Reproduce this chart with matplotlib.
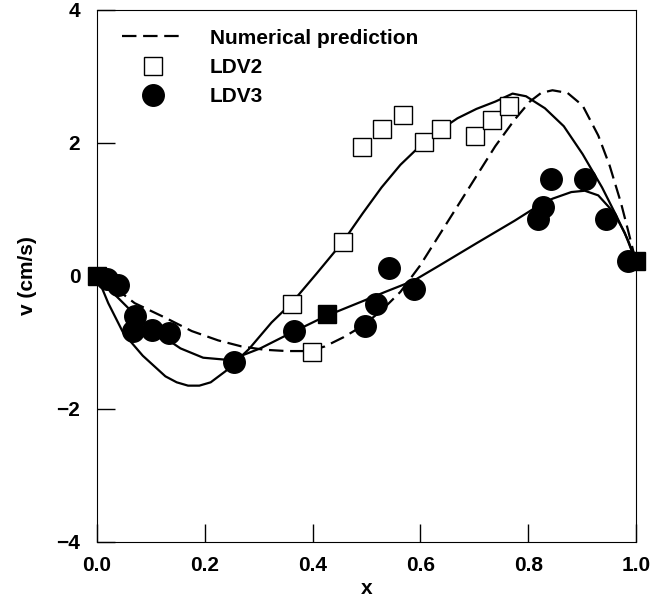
import matplotlib.pyplot as plt
from matplotlib.lines import Line2D

plt.rcParams['font.family'] = 'Liberation Sans'
plt.rcParams['font.weight'] = 'bold'

# solid curve through LDV2 data
fit2_x = [0.0, 0.021, 0.049, 0.085, 0.127, 0.148, 0.169, 0.190, 0.211, 0.239, 0.282, 0.324, 0.361,
          0.408, 0.456, 0.493, 0.528, 0.563, 0.599, 0.634, 0.669, 0.704, 0.739,
          0.771, 0.796, 0.831, 0.866, 0.901, 0.937, 0.965, 0.986, 1.0]
fit2_y = [0.0, -0.41, -0.86, -1.20, -1.51, -1.60, -1.65, -1.65, -1.60, -1.43, -1.10, -0.70, -0.41,
          0.04, 0.51, 0.94, 1.33, 1.67, 1.95, 2.18, 2.37, 2.51, 2.62,
          2.74, 2.70, 2.52, 2.25, 1.83, 1.33, 0.88, 0.52, 0.21]

# solid curve through LDV3 data
fit3_x = [0.0, 0.028, 0.070, 0.113, 0.155, 0.197, 0.239, 0.268, 0.303, 0.352, 0.423,
          0.493, 0.535, 0.588, 0.634, 0.704, 0.775, 0.818, 0.845, 0.880, 0.905,
          0.930, 0.958, 0.979, 1.0]
fit3_y = [0.0, -0.24, -0.58, -0.86, -1.09, -1.23, -1.26, -1.20, -1.09, -0.89, -0.61,
          -0.38, -0.24, -0.07, 0.15, 0.49, 0.83, 1.05, 1.16, 1.26, 1.28,
          1.21, 0.96, 0.65, 0.21]

# numerical prediction (dashed)
num_x = [0.0, 0.035, 0.070, 0.127, 0.176, 0.225, 0.268, 0.310, 0.352, 0.394, 0.423,
         0.458, 0.493, 0.528, 0.563, 0.599, 0.634, 0.669, 0.704, 0.739, 0.775,
         0.803, 0.824, 0.845, 0.873, 0.901, 0.930, 0.951, 0.972, 0.986, 1.0]
num_y = [0.0, -0.19, -0.41, -0.63, -0.83, -0.97, -1.06, -1.11, -1.13, -1.13, -1.06,
         -0.92, -0.75, -0.52, -0.24, 0.15, 0.60, 1.05, 1.50, 1.95, 2.35,
         2.62, 2.75, 2.79, 2.75, 2.56, 2.11, 1.66, 1.10, 0.66, 0.21]

ldv2_x = [0.361, 0.399, 0.456, 0.491, 0.529, 0.567, 0.606, 0.639, 0.701, 0.732, 0.765]
ldv2_y = [-0.42, -1.14, 0.51, 1.93, 2.21, 2.42, 2.01, 2.21, 2.10, 2.35, 2.56]

ldv3_x = [0.018, 0.039, 0.070, 0.067, 0.102, 0.134, 0.255, 0.365, 0.498, 0.518,
          0.541, 0.588, 0.818, 0.827, 0.843, 0.905, 0.944, 0.986]
ldv3_y = [-0.05, -0.14, -0.61, -0.83, -0.82, -0.86, -1.30, -0.83, -0.75, -0.42,
          0.12, -0.20, 0.86, 1.03, 1.46, 1.45, 0.86, 0.22]

# filled squares (not in legend)
sq_x = [0.0, 0.426, 1.0]
sq_y = [0.0, -0.57, 0.22]

dash = (0, (6.5, 3))

fig = plt.figure(figsize=(6.55, 6.0), dpi=100)
ax = fig.add_axes([0.148, 0.0967, 0.823, 0.887])

ax.plot(fit2_x, fit2_y, color='black', lw=1.6)
ax.plot(fit3_x, fit3_y, color='black', lw=1.6)
ax.plot(num_x, num_y, color='black', lw=1.6, ls=dash)
ax.plot(ldv2_x, ldv2_y, 's', ms=13, mfc='white', mec='black', mew=1.0)
ax.plot(ldv3_x, ldv3_y, 'o', ms=15.5, color='black', clip_on=False)
ax.plot(sq_x, sq_y, 's', ms=13, color='black', clip_on=False)

ax.set_xlim(0, 1)
ax.set_ylim(-4, 4)
ax.set_xticks([0.0, 0.2, 0.4, 0.6, 0.8, 1.0])
ax.set_xticklabels(['0.0', '0.2', '0.4', '0.6', '0.8', '1.0'])
ax.set_yticks([-4, -2, 0, 2, 4])
ax.tick_params(direction='in', length=13, width=1.0, labelsize=15)
ax.tick_params(axis='x', pad=10)
ax.tick_params(axis='y', pad=12)
ax.set_xlabel('x', fontsize=15, fontweight='bold', labelpad=3)
ax.set_ylabel('v (cm/s)', fontsize=15, fontweight='bold', labelpad=14)

handles = [
    Line2D([], [], color='black', lw=1.6, ls=dash),
    Line2D([], [], marker='s', ls='none', ms=13, mfc='white', mec='black', mew=1.0),
    Line2D([], [], marker='o', ls='none', ms=15.5, color='black'),
]
ax.legend(handles, ['Numerical prediction', 'LDV2', 'LDV3'], loc='upper left',
          bbox_to_anchor=(0.012, 1.0), frameon=False, fontsize=15,
          handlelength=3.0, handletextpad=1.2, labelspacing=0.5)

fig.savefig('out.png', dpi=100)
